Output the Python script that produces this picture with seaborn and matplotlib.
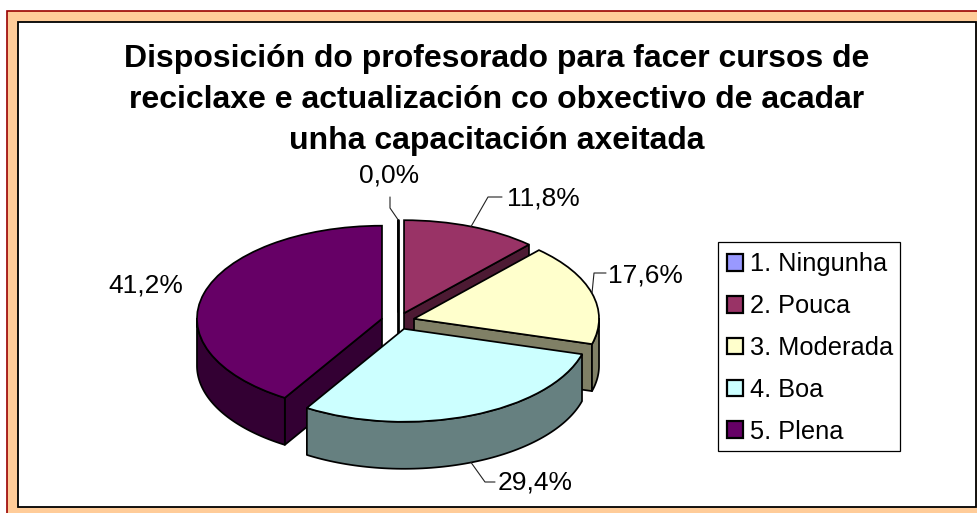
import numpy as np
import matplotlib
matplotlib.use("Agg")
import matplotlib.pyplot as plt
from matplotlib.patches import Rectangle
from matplotlib.transforms import Affine2D
import seaborn as sns

title = ("Disposición do profesorado para facer cursos de\n"
         "reciclaxe e actualización co obxectivo de acadar\n"
         "unha capacitación axeitada")
categories = ["1. Ningunha", "2. Pouca", "3. Moderada", "4. Boa", "5. Plena"]
values = [0.0, 11.8, 17.6, 29.4, 41.2]
top_colors = ["#9999FF", "#993366", "#FFFFCC", "#CCFFFF", "#660066"]
side_colors = ["#4D4D80", "#4D1A33", "#808066", "#668080", "#330033"]

sns.set_theme(style="white")
plt.rcParams["font.family"] = ["Liberation Sans", "DejaVu Sans"]

W, H = 978, 513
CX, CY, RX, RY, DEPTH = 398, 321, 185, 93, 47
EXPLODE = 0.09
LW = 1.25

fig = plt.figure(figsize=(W / 100, H / 100), dpi=100, facecolor="white")
ax = fig.add_axes([0, 0, 1, 1])
px = Affine2D().scale(1 / W, -1 / H).translate(0, 1) + fig.transFigure

palette = sns.color_palette(top_colors)
wedges, _ = ax.pie(values, colors=palette, startangle=90, counterclock=False,
                   explode=[EXPLODE] * len(values),
                   wedgeprops=dict(edgecolor="black", linewidth=LW))
ax.set_aspect("auto")
ax.set_xlim(-CX / RX, (W - CX) / RX)
ax.set_ylim((CY - H) / RY, CY / RY)

ax.add_patch(Rectangle((6.5, 10.5), W, H, transform=px, facecolor="#FFCC99",
                       edgecolor="#990000", linewidth=1.2, zorder=0))
ax.add_patch(Rectangle((17.5, 21.5), 958, 485.5, transform=px, facecolor="white",
                       edgecolor="black", linewidth=1.3, zorder=0.5))

# 3D walls, computed from the slice angles
dz = DEPTH / RY
bounds = np.cumsum([0.0] + values) / sum(values) * 2 * np.pi
order = [0, 1, 2, 4, 3]  # back to front
centers = []
for i in range(len(values)):
    mid = (bounds[i] + bounds[i + 1]) / 2
    centers.append((EXPLODE * np.sin(mid), EXPLODE * np.cos(mid)))


def wall(xs, ys, color, z):
    xs, ys = np.asarray(xs), np.asarray(ys)
    ax.fill(np.r_[xs, xs[::-1]], np.r_[ys, ys[::-1] - dz], facecolor=color,
            edgecolor="black", linewidth=LW, zorder=z, joinstyle="round")


for rank, i in enumerate(order):
    a1, a2 = bounds[i], bounds[i + 1]
    cx, cy = centers[i]
    z = 2 + rank
    if a2 > a1:
        if np.sin(a2) > 0:
            wall([cx, cx + np.sin(a2)], [cy, cy + np.cos(a2)], side_colors[i], z)
        if np.sin(a1) < 0:
            wall([cx, cx + np.sin(a1)], [cy, cy + np.cos(a1)], side_colors[i], z)
        lo, hi = max(a1, np.pi / 2), min(a2, 3 * np.pi / 2)
        if hi > lo:
            t = np.linspace(lo, hi, 80)
            wall(cx + np.sin(t), cy + np.cos(t), side_colors[i], z)
    else:
        # an empty slice still shows as a thin blade down to its base
        ax.plot([cx, cx], [cy + 1, cy - dz], color="black", linewidth=2.0, zorder=z)
    wedges[i].set_zorder(z + 0.5)

# data labels with leaders
labels = [f"{v:.1f}%".replace(".", ",") for v in values]
label_pos = [(389, 175.5), (543, 198.5), (645, 275.5), (535, 482.5), (146, 285.5)]
elbows = [[(390, 208), (390, 197)], [(488, 197), (502, 197)],
          [(594, 273), (606, 273)], [(485, 482), (495, 482)], []]
for i, lab in enumerate(labels):
    ax.text(*label_pos[i], lab, transform=px, ha="center", va="center",
            fontsize=19, color="black", zorder=10)
    if elbows[i]:
        mid = (bounds[i] + bounds[i + 1]) / 2
        sx = CX + RX * (centers[i][0] + np.sin(mid))
        sy = CY - RY * (centers[i][1] + np.cos(mid))
        if np.cos(mid) < 0:
            sy += DEPTH
        xs = [sx] + [p[0] for p in elbows[i]]
        ys = [sy] + [p[1] for p in elbows[i]]
        ax.plot(xs, ys, transform=px, color="#222222", linewidth=0.8, zorder=9)

ax.text(497, 100, title, transform=px, ha="center", va="center", fontsize=23,
        fontweight="bold", color="black", linespacing=1.5, zorder=10)

ax.add_patch(Rectangle((717.5, 241.5), 182.5, 209.5, transform=px, facecolor="white",
                       edgecolor="black", linewidth=0.9, zorder=10.5))
leg = ax.legend(wedges, categories, loc="upper left", bbox_to_anchor=(718, 243),
                bbox_transform=px, frameon=False, labelcolor="black",
                fontsize=18.3, borderaxespad=0, borderpad=0.37,
                labelspacing=0.70, handlelength=0.63, handleheight=0.63,
                handletextpad=0.27)
for h in leg.legend_handles:
    h.set_linewidth(1.6)
leg.set_zorder(11)

fig.savefig("out.png", dpi=100, facecolor="white")
